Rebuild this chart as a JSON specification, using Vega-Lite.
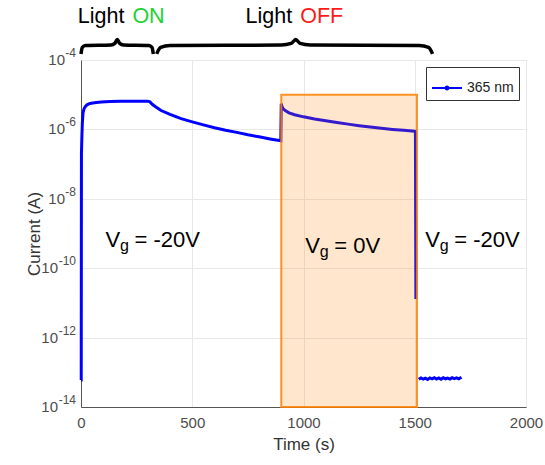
{
  "$schema": "https://vega.github.io/schema/vega-lite/v6.json",
  "width": 445,
  "height": 347,
  "autosize": {"type": "none"},
  "padding": {"left": 81, "top": 60, "right": 19, "bottom": 58},
  "config": {
    "font": "Liberation Sans",
    "view": {"stroke": "#9a9a9a", "strokeWidth": 1},
    "axis": {
      "domainColor": "#555555",
      "labelColor": "#4d4d4d",
      "titleColor": "#333333",
      "labelFontSize": 15,
      "titleFontSize": 17,
      "titleFontWeight": "normal",
      "gridColor": "#e8e8e8",
      "ticks": false,
      "labelFont": "Liberation Sans",
      "titleFont": "Liberation Sans"
    },
    "legend": {
      "orient": "top-right",
      "offset": 7,
      "strokeColor": "#333333",
      "fillColor": "white",
      "padding": 5,
      "labelFontSize": 14,
      "labelColor": "#222222",
      "symbolType": "M-1,0L1,0M0.1,0A0.1,0.1,0,1,1,-0.1,0A0.1,0.1,0,1,1,0.1,0",
      "symbolSize": 900,
      "symbolStrokeWidth": 2
    }
  },
  "datasets": {
    "current": [
      {"t": 0, "I": 6e-14, "seg": "A", "series": "365 nm"},
      {"t": 1, "I": 6e-14, "seg": "A", "series": "365 nm"},
      {"t": 2, "I": 2e-7, "seg": "A", "series": "365 nm"},
      {"t": 4, "I": 6.3e-7, "seg": "A", "series": "365 nm"},
      {"t": 6, "I": 1.5e-6, "seg": "A", "series": "365 nm"},
      {"t": 9, "I": 3.0e-6, "seg": "A", "series": "365 nm"},
      {"t": 14, "I": 4.0e-6, "seg": "A", "series": "365 nm"},
      {"t": 20, "I": 4.6e-6, "seg": "A", "series": "365 nm"},
      {"t": 27, "I": 5.1e-6, "seg": "A", "series": "365 nm"},
      {"t": 40, "I": 5.6e-6, "seg": "A", "series": "365 nm"},
      {"t": 60, "I": 5.9e-6, "seg": "A", "series": "365 nm"},
      {"t": 90, "I": 6.2e-6, "seg": "A", "series": "365 nm"},
      {"t": 130, "I": 6.4e-6, "seg": "A", "series": "365 nm"},
      {"t": 180, "I": 6.5e-6, "seg": "A", "series": "365 nm"},
      {"t": 240, "I": 6.5e-6, "seg": "A", "series": "365 nm"},
      {"t": 300, "I": 6.5e-6, "seg": "A", "series": "365 nm"},
      {"t": 310, "I": 6.2e-6, "seg": "A", "series": "365 nm"},
      {"t": 320, "I": 5.3e-6, "seg": "A", "series": "365 nm"},
      {"t": 335, "I": 4.5e-6, "seg": "A", "series": "365 nm"},
      {"t": 360, "I": 3.5e-6, "seg": "A", "series": "365 nm"},
      {"t": 400, "I": 2.7e-6, "seg": "A", "series": "365 nm"},
      {"t": 450, "I": 2.05e-6, "seg": "A", "series": "365 nm"},
      {"t": 500, "I": 1.65e-6, "seg": "A", "series": "365 nm"},
      {"t": 550, "I": 1.35e-6, "seg": "A", "series": "365 nm"},
      {"t": 600, "I": 1.12e-6, "seg": "A", "series": "365 nm"},
      {"t": 650, "I": 9.5e-7, "seg": "A", "series": "365 nm"},
      {"t": 700, "I": 8.2e-7, "seg": "A", "series": "365 nm"},
      {"t": 750, "I": 7.0e-7, "seg": "A", "series": "365 nm"},
      {"t": 800, "I": 6.1e-7, "seg": "A", "series": "365 nm"},
      {"t": 850, "I": 5.3e-7, "seg": "A", "series": "365 nm"},
      {"t": 898, "I": 4.7e-7, "seg": "A", "series": "365 nm"},
      {"t": 900, "I": 5.5e-6, "seg": "A", "series": "365 nm"},
      {"t": 903, "I": 4.6e-6, "seg": "A", "series": "365 nm"},
      {"t": 908, "I": 4.0e-6, "seg": "A", "series": "365 nm"},
      {"t": 918, "I": 3.5e-6, "seg": "A", "series": "365 nm"},
      {"t": 935, "I": 3.0e-6, "seg": "A", "series": "365 nm"},
      {"t": 960, "I": 2.65e-6, "seg": "A", "series": "365 nm"},
      {"t": 1000, "I": 2.3e-6, "seg": "A", "series": "365 nm"},
      {"t": 1050, "I": 2.0e-6, "seg": "A", "series": "365 nm"},
      {"t": 1100, "I": 1.78e-6, "seg": "A", "series": "365 nm"},
      {"t": 1150, "I": 1.58e-6, "seg": "A", "series": "365 nm"},
      {"t": 1200, "I": 1.42e-6, "seg": "A", "series": "365 nm"},
      {"t": 1250, "I": 1.28e-6, "seg": "A", "series": "365 nm"},
      {"t": 1300, "I": 1.17e-6, "seg": "A", "series": "365 nm"},
      {"t": 1350, "I": 1.08e-6, "seg": "A", "series": "365 nm"},
      {"t": 1400, "I": 1.0e-6, "seg": "A", "series": "365 nm"},
      {"t": 1450, "I": 9.4e-7, "seg": "A", "series": "365 nm"},
      {"t": 1500, "I": 8.9e-7, "seg": "A", "series": "365 nm"},
      {"t": 1503, "I": 8.8e-7, "seg": "A", "series": "365 nm"},
      {"t": 1505, "I": 1.3e-11, "seg": "A", "series": "365 nm"},
      {"t": 1518, "I": 6.3e-14, "seg": "B", "series": "365 nm"},
      {"t": 1528, "I": 6.9e-14, "seg": "B", "series": "365 nm"},
      {"t": 1538, "I": 6.4e-14, "seg": "B", "series": "365 nm"},
      {"t": 1548, "I": 6.8e-14, "seg": "B", "series": "365 nm"},
      {"t": 1558, "I": 6.2e-14, "seg": "B", "series": "365 nm"},
      {"t": 1568, "I": 6.9e-14, "seg": "B", "series": "365 nm"},
      {"t": 1578, "I": 6.5e-14, "seg": "B", "series": "365 nm"},
      {"t": 1588, "I": 7.0e-14, "seg": "B", "series": "365 nm"},
      {"t": 1598, "I": 6.4e-14, "seg": "B", "series": "365 nm"},
      {"t": 1608, "I": 6.9e-14, "seg": "B", "series": "365 nm"},
      {"t": 1618, "I": 6.3e-14, "seg": "B", "series": "365 nm"},
      {"t": 1628, "I": 7.0e-14, "seg": "B", "series": "365 nm"},
      {"t": 1638, "I": 6.5e-14, "seg": "B", "series": "365 nm"},
      {"t": 1648, "I": 6.8e-14, "seg": "B", "series": "365 nm"},
      {"t": 1658, "I": 6.4e-14, "seg": "B", "series": "365 nm"},
      {"t": 1668, "I": 7.0e-14, "seg": "B", "series": "365 nm"},
      {"t": 1678, "I": 6.6e-14, "seg": "B", "series": "365 nm"},
      {"t": 1688, "I": 6.9e-14, "seg": "B", "series": "365 nm"},
      {"t": 1698, "I": 6.5e-14, "seg": "B", "series": "365 nm"},
      {"t": 1710, "I": 7.2e-14, "seg": "B", "series": "365 nm"}
    ],
    "window": [
      {"t": 900, "t2": 1510, "I": 1e-14, "I2": 1e-5}
    ],
    "braces": [
      {"brace": "on", "t": 0, "I": 1.5e-4},
      {"brace": "on", "t": 6, "I": 2.3e-4},
      {"brace": "on", "t": 20, "I": 2.6e-4},
      {"brace": "on", "t": 135, "I": 2.7e-4},
      {"brace": "on", "t": 152, "I": 3.0e-4},
      {"brace": "on", "t": 163, "I": 3.9e-4},
      {"brace": "on", "t": 174, "I": 3.0e-4},
      {"brace": "on", "t": 191, "I": 2.7e-4},
      {"brace": "on", "t": 305, "I": 2.6e-4},
      {"brace": "on", "t": 319, "I": 2.3e-4},
      {"brace": "on", "t": 325, "I": 1.5e-4},
      {"brace": "off", "t": 340, "I": 1.5e-4},
      {"brace": "off", "t": 358, "I": 2.3e-4},
      {"brace": "off", "t": 400, "I": 2.6e-4},
      {"brace": "off", "t": 900, "I": 2.7e-4},
      {"brace": "off", "t": 945, "I": 3.0e-4},
      {"brace": "off", "t": 965, "I": 3.9e-4},
      {"brace": "off", "t": 985, "I": 3.0e-4},
      {"brace": "off", "t": 1030, "I": 2.7e-4},
      {"brace": "off", "t": 1520, "I": 2.6e-4},
      {"brace": "off", "t": 1562, "I": 2.3e-4},
      {"brace": "off", "t": 1580, "I": 1.5e-4}
    ],
    "heads": [
      {"t": 213, "I": 1.68e-3, "word": "ON"},
      {"t": 967, "I": 1.68e-3, "word": "OFF"}
    ],
    "gates": [
      {"t": 110, "I": 6.7e-10, "rest": "= -20V"},
      {"t": 1008, "I": 4.5e-10, "rest": "= 0V"},
      {"t": 1547, "I": 6.7e-10, "rest": "= -20V"}
    ],
    "ticks": [
      {"t": 0, "I": 1e-4, "e": "-4"},
      {"t": 0, "I": 1e-6, "e": "-6"},
      {"t": 0, "I": 1e-8, "e": "-8"},
      {"t": 0, "I": 1e-10, "e": "-10"},
      {"t": 0, "I": 1e-12, "e": "-12"},
      {"t": 0, "I": 1e-14, "e": "-14"}
    ]
  },
  "layer": [
    {
      "data": {"name": "current"},
      "mark": {"type": "line", "strokeWidth": 3},
      "encoding": {
        "x": {
          "field": "t", "type": "quantitative", "title": "Time (s)",
          "scale": {"domain": [0, 2000], "nice": false},
          "axis": {"values": [0, 500, 1000, 1500, 2000], "format": "d", "labelPadding": 8, "titlePadding": 6, "labelFlush": false, "grid": true}
        },
        "y": {
          "field": "I", "type": "quantitative", "title": "Current (A)",
          "scale": {"type": "log", "domain": [1e-14, 1e-4], "nice": false},
          "axis": {
            "values": [1e-14, 1e-12, 1e-10, 1e-8, 1e-6, 1e-4],
            "labels": false, "titlePadding": 38, "grid": true
          }
        },
        "color": {"field": "series", "type": "nominal", "scale": {"range": ["#0000ff"]}, "legend": {"title": null}},
        "detail": {"field": "seg"}
      }
    },
    {
      "data": {"name": "window"},
      "mark": {"type": "rect", "fill": "#ff8000", "fillOpacity": 0.2, "stroke": "#ff8000", "strokeOpacity": 0.85, "strokeWidth": 2},
      "encoding": {
        "x": {"field": "t", "type": "quantitative", "title": "Time (s)", "scale": {"domain": [0, 2000], "nice": false}},
        "x2": {"field": "t2"},
        "y": {"field": "I", "type": "quantitative", "title": "Current (A)", "scale": {"type": "log", "domain": [1e-14, 1e-4], "nice": false}},
        "y2": {"field": "I2"}
      }
    },
    {
      "data": {"name": "braces"},
      "mark": {"type": "line", "color": "black", "strokeWidth": 3.5, "interpolate": "monotone", "clip": false},
      "encoding": {
        "x": {"field": "t", "type": "quantitative", "title": "Time (s)", "scale": {"domain": [0, 2000], "nice": false}},
        "y": {"field": "I", "type": "quantitative", "title": "Current (A)", "scale": {"type": "log", "domain": [1e-14, 1e-4], "nice": false}},
        "detail": {"field": "brace"}
      }
    },
    {
      "data": {"name": "heads"},
      "mark": {"type": "text", "text": "Light", "align": "right", "baseline": "middle", "dx": -4, "fontSize": 21.5, "color": "black"},
      "encoding": {
        "x": {"field": "t", "type": "quantitative", "title": "Time (s)", "scale": {"domain": [0, 2000], "nice": false}},
        "y": {"field": "I", "type": "quantitative", "title": "Current (A)", "scale": {"type": "log", "domain": [1e-14, 1e-4], "nice": false}}
      }
    },
    {
      "data": {"name": "heads"},
      "transform": [{"filter": "datum.word == 'ON'"}],
      "mark": {"type": "text", "align": "left", "baseline": "middle", "dx": 4, "fontSize": 21.5, "color": "#1ed233"},
      "encoding": {
        "x": {"field": "t", "type": "quantitative", "title": "Time (s)", "scale": {"domain": [0, 2000], "nice": false}},
        "y": {"field": "I", "type": "quantitative", "title": "Current (A)", "scale": {"type": "log", "domain": [1e-14, 1e-4], "nice": false}},
        "text": {"field": "word"}
      }
    },
    {
      "data": {"name": "heads"},
      "transform": [{"filter": "datum.word == 'OFF'"}],
      "mark": {"type": "text", "align": "left", "baseline": "middle", "dx": 4, "fontSize": 21.5, "color": "#ff1a1a"},
      "encoding": {
        "x": {"field": "t", "type": "quantitative", "title": "Time (s)", "scale": {"domain": [0, 2000], "nice": false}},
        "y": {"field": "I", "type": "quantitative", "title": "Current (A)", "scale": {"type": "log", "domain": [1e-14, 1e-4], "nice": false}},
        "text": {"field": "word"}
      }
    },
    {
      "data": {"name": "gates"},
      "mark": {"type": "text", "text": "V", "align": "left", "baseline": "middle", "fontSize": 22, "color": "black"},
      "encoding": {
        "x": {"field": "t", "type": "quantitative", "title": "Time (s)", "scale": {"domain": [0, 2000], "nice": false}},
        "y": {"field": "I", "type": "quantitative", "title": "Current (A)", "scale": {"type": "log", "domain": [1e-14, 1e-4], "nice": false}}
      }
    },
    {
      "data": {"name": "gates"},
      "mark": {"type": "text", "text": "g", "align": "left", "baseline": "middle", "fontSize": 16, "dx": 14.5, "dy": 6, "color": "black"},
      "encoding": {
        "x": {"field": "t", "type": "quantitative", "title": "Time (s)", "scale": {"domain": [0, 2000], "nice": false}},
        "y": {"field": "I", "type": "quantitative", "title": "Current (A)", "scale": {"type": "log", "domain": [1e-14, 1e-4], "nice": false}}
      }
    },
    {
      "data": {"name": "gates"},
      "mark": {"type": "text", "align": "left", "baseline": "middle", "fontSize": 22, "dx": 29, "color": "black"},
      "encoding": {
        "x": {"field": "t", "type": "quantitative", "title": "Time (s)", "scale": {"domain": [0, 2000], "nice": false}},
        "y": {"field": "I", "type": "quantitative", "title": "Current (A)", "scale": {"type": "log", "domain": [1e-14, 1e-4], "nice": false}},
        "text": {"field": "rest"}
      }
    },
    {
      "data": {"name": "ticks"},
      "mark": {"type": "text", "align": "right", "baseline": "middle", "fontSize": 12, "dx": -5, "dy": -7, "color": "#4d4d4d"},
      "encoding": {
        "x": {"field": "t", "type": "quantitative", "title": "Time (s)", "scale": {"domain": [0, 2000], "nice": false}},
        "y": {"field": "I", "type": "quantitative", "title": "Current (A)", "scale": {"type": "log", "domain": [1e-14, 1e-4], "nice": false}},
        "text": {"field": "e"}
      }
    },
    {
      "data": {"name": "ticks"},
      "transform": [{"filter": "length(datum.e) == 2"}],
      "mark": {"type": "text", "text": "10", "align": "right", "baseline": "middle", "fontSize": 15, "dx": -16, "color": "#4d4d4d"},
      "encoding": {
        "x": {"field": "t", "type": "quantitative", "title": "Time (s)", "scale": {"domain": [0, 2000], "nice": false}},
        "y": {"field": "I", "type": "quantitative", "title": "Current (A)", "scale": {"type": "log", "domain": [1e-14, 1e-4], "nice": false}}
      }
    },
    {
      "data": {"name": "ticks"},
      "transform": [{"filter": "length(datum.e) == 3"}],
      "mark": {"type": "text", "text": "10", "align": "right", "baseline": "middle", "fontSize": 15, "dx": -23, "color": "#4d4d4d"},
      "encoding": {
        "x": {"field": "t", "type": "quantitative", "title": "Time (s)", "scale": {"domain": [0, 2000], "nice": false}},
        "y": {"field": "I", "type": "quantitative", "title": "Current (A)", "scale": {"type": "log", "domain": [1e-14, 1e-4], "nice": false}}
      }
    }
  ]
}
